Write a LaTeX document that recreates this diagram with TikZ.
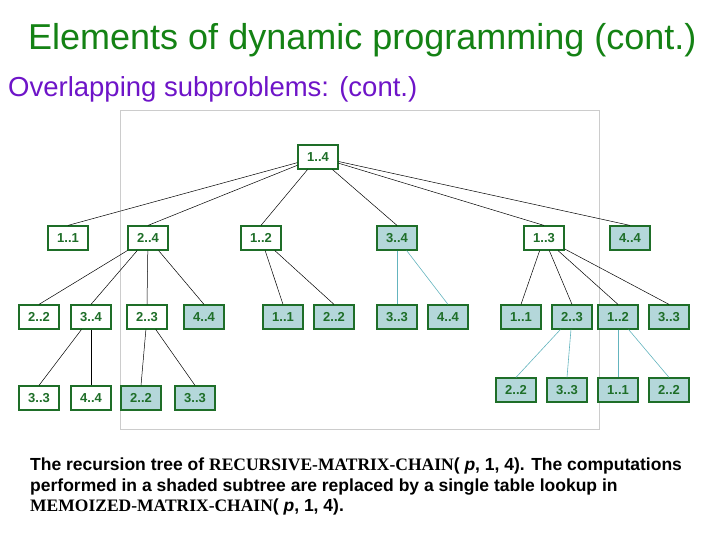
\documentclass[tikz,border=0pt]{standalone}
\usepackage{fontspec}
\setmainfont{Liberation Sans}
\newfontfamily\timesfont{Liberation Serif}
\usetikzlibrary{positioning}
\definecolor{titlegreen}{RGB}{20,130,20}
\definecolor{subpurple}{RGB}{110,20,200}
\definecolor{boxgreen}{RGB}{30,110,40}
\definecolor{shade}{RGB}{180,215,218}
\definecolor{cyanline}{RGB}{100,180,190}
\begin{document}
\begin{tikzpicture}[x=1pt,y=-1pt,
  sub/.style={draw=boxgreen,line width=1.2pt,fill=white,minimum width=40pt,minimum height=24pt,
    inner sep=0pt,font=\fontsize{13}{15}\selectfont\bfseries,text=boxgreen},
  memo/.style={sub,fill=shade},
  edge/.style={black,line width=0.5pt},
  cedge/.style={cyanline,line width=0.6pt}]
\useasboundingbox (0,0) rectangle (720,540);
% headings
\node[anchor=west,text=titlegreen,font=\fontsize{36}{40}\selectfont,inner sep=0pt] (title) at (28,40) {Elements of dynamic programming (cont.)};
\node[anchor=west,text=subpurple,font=\fontsize{27.5}{32}\selectfont,inner sep=0pt] (subtitle) at (8,89) {Overlapping subproblems: (cont.)};
% frame
\draw[black!20,line width=0.8pt] (120,110) rectangle (599,429);
% level 0 and 1
\node[sub] (r) at (318,157) {1..4};
\node[sub] (a) at (68,238) {1..1};
\node[sub] (b) at (148,238) {2..4};
\node[sub] (c) at (261,238) {1..2};
\node[memo] (d) at (397,238) {3..4};
\node[sub] (e) at (544,238) {1..3};
\node[memo] (f) at (630,238) {4..4};
% level 2
\node[sub] (b1) at (39,317) {2..2};
\node[sub] (b2) at (91,317) {3..4};
\node[sub] (b3) at (147,317) {2..3};
\node[memo] (b4) at (204,317) {4..4};
\node[memo] (c1) at (283,317) {1..1};
\node[memo] (c2) at (334,317) {2..2};
\node[memo] (d1) at (397,317) {3..3};
\node[memo] (d2) at (448,317) {4..4};
\node[memo] (e1) at (521,317) {1..1};
\node[memo] (e2) at (572,317) {2..3};
\node[memo] (e3) at (618,317) {1..2};
\node[memo] (e4) at (669,317) {3..3};
% level 3
\node[sub] (b21) at (39,398) {3..3};
\node[sub] (b22) at (91,398) {4..4};
\node[memo] (b31) at (141,398) {2..2};
\node[memo] (b32) at (195,398) {3..3};
\node[memo] (e21) at (516,390) {2..2};
\node[memo] (e22) at (567,390) {3..3};
\node[memo] (e31) at (618,390) {1..1};
\node[memo] (e32) at (669,390) {2..2};
% edges
\foreach \p/\c in {r/a,r/b,r/c,r/d,r/e,r/f,b/b1,b/b2,b/b3,b/b4,c/c1,c/c2,e/e1,e/e2,e/e3,e/e4,b2/b21,b2/b22,b3/b31,b3/b32}
  \draw[edge] (\p) -- (\c.north);
\foreach \p/\c in {d/d1,d/d2,e2/e21,e2/e22,e3/e31,e3/e32}
  \draw[cedge] (\p) -- (\c.north);
% caption
\node[anchor=north west,align=left,inner sep=0pt,font=\fontsize{17.5}{20.5}\selectfont\bfseries] (cap) at (30,458)
  {The recursion tree of {\timesfont RECURSIVE-MATRIX-CHAIN}(~\textit{p}, 1, 4). The computations\\
   performed in a shaded subtree are replaced by a single table lookup in\\
   {\timesfont MEMOIZED-MATRIX-CHAIN}(~\textit{p}, 1, 4).};
\end{tikzpicture}
\end{document}
